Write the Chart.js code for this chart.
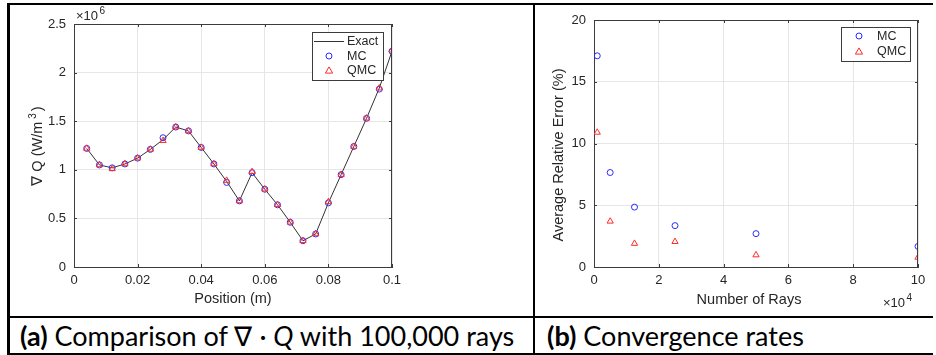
<!DOCTYPE html>
<html>

<head>
  <title>Divergence of Q and convergence rates</title>
  <script src="https://cdn.jsdelivr.net/npm/chart.js@4.4.0/dist/chart.umd.min.js"></script>

  <style>
    body {
      margin: 0;
      background-color: white;
      width: 936px;
      height: 355px;
      position: relative;
      overflow: hidden;
    }

    canvas {
      position: absolute;
      top: 0;
    }

    .rule {
      position: absolute;
      background: #000;
    }

    .caption {
      position: absolute;
      top: 318px;
      height: 35px;
      line-height: 35px;
      font-family: Lato, "Open Sans", sans-serif;
      font-size: 27px;
      color: #000;
      white-space: nowrap;
    }
  </style>
</head>

<body>
  <canvas id="divChart" width="533" height="316" style="left:0"></canvas>
  <canvas id="convChart" width="401" height="316" style="left:535px"></canvas>

  <!-- table rules -->
  <div class="rule" style="left:7px; top:3px; width:926px; height:2px"></div>
  <div class="rule" style="left:7px; top:3px; width:3px; height:352px"></div>
  <div class="rule" style="left:533px; top:3px; width:2px; height:352px"></div>
  <div class="rule" style="left:7px; top:316px; width:926px; height:2px"></div>
  <div class="rule" style="left:7px; top:353px; width:926px; height:2px"></div>

  <div class="caption" style="left:20px"><b>(a)</b> Comparison of ∇ · <i>Q</i> with 100,000 rays</div>
  <div class="caption" style="left:547px"><b>(b)</b> Convergence rates</div>

  <script>
    // (a) div Q along the slab, values in units of 1e6 W/m^3
    const positions = [0.004, 0.008, 0.012, 0.016, 0.020, 0.024, 0.028, 0.032, 0.036, 0.040, 0.044, 0.048, 0.052,
      0.056, 0.060, 0.064, 0.068, 0.072, 0.076, 0.080, 0.084, 0.088, 0.092, 0.096, 0.100];
    const exactQ = [1.22, 1.05, 1.02, 1.06, 1.12, 1.21, 1.31, 1.44, 1.40, 1.23, 1.06, 0.88, 0.68,
      0.97, 0.80, 0.64, 0.46, 0.27, 0.34, 0.66, 0.95, 1.24, 1.53, 1.84, 2.22];
    const mcQ = [1.22, 1.05, 1.02, 1.06, 1.12, 1.21, 1.33, 1.44, 1.40, 1.23, 1.06, 0.87, 0.68,
      0.97, 0.80, 0.64, 0.46, 0.27, 0.34, 0.66, 0.95, 1.24, 1.53, 1.83, 2.22];
    const qmcQ = [1.22, 1.05, 1.01, 1.06, 1.12, 1.21, 1.30, 1.44, 1.40, 1.23, 1.06, 0.89, 0.68,
      0.98, 0.80, 0.64, 0.46, 0.27, 0.34, 0.67, 0.95, 1.24, 1.53, 1.84, 2.23];
    const posTicks = [0, 0.02, 0.04, 0.06, 0.08, 0.1];
    const qTicks = [0, 0.5, 1, 1.5, 2, 2.5];

    // (b) error vs number of rays
    const rays = [1000, 5000, 12500, 25000, 50000, 100000];
    const mcError = [17.1, 7.65, 4.85, 3.35, 2.7, 1.67];
    const qmcError = [10.9, 3.7, 1.9, 2.05, 0.97, 0.78];
    const rayTicks = [0, 20000, 40000, 60000, 80000, 100000];
    const errTicks = [0, 5, 10, 15, 20];

    const axisColor = '#3c3c3c';
    const gridColor = '#e6e6e6';
    const textColor = '#262626';
    const blue = '#2b2bff';
    const red = '#ff2a2a';
    const fontName = '"Liberation Sans", Arial, sans-serif';

    function drawMarker(ctx, kind, x, y) {
      ctx.beginPath();
      if (kind === 'circle') {
        ctx.strokeStyle = blue;
        ctx.arc(x, y, 3, 0, Math.PI * 2);
      } else if (kind === 'triangle') {
        ctx.strokeStyle = red;
        ctx.moveTo(x, y - 3.6);
        ctx.lineTo(x + 3.6, y + 2.6);
        ctx.lineTo(x - 3.6, y + 2.6);
        ctx.closePath();
      } else {
        ctx.strokeStyle = '#333';
        ctx.moveTo(x - 15, y);
        ctx.lineTo(x + 15, y);
      }
      ctx.stroke();
    }

    // draws text pieces; pieces with sup are raised and smaller
    function drawPieces(ctx, pieces, x, y, align) {
      let total = 0;
      pieces.forEach(p => {
        ctx.font = (p.sup ? 10 : p.size) + 'px ' + fontName;
        total += ctx.measureText(p.t).width + (p.gap || 0);
      });
      let cx = align === 'center' ? x - total / 2 : x;
      ctx.textAlign = 'left';
      ctx.textBaseline = 'alphabetic';
      pieces.forEach(p => {
        ctx.font = (p.sup ? 10 : p.size) + 'px ' + fontName;
        cx += (p.gap || 0);
        ctx.fillText(p.t, cx, p.sup ? y - 6 : y);
        cx += ctx.measureText(p.t).width;
      });
    }

    // MATLAB style box, inward ticks, titles and legend
    const matlabAxes = {
      id: 'matlabAxes',
      afterDraw(chart, args, o) {
        const ctx = chart.ctx;
        const a = chart.chartArea;
        const xs = chart.scales.x, ys = chart.scales.y;
        ctx.save();
        ctx.strokeStyle = axisColor;
        ctx.lineWidth = 1;
        ctx.beginPath();
        ctx.moveTo(a.left, Math.round(a.top) + 0.5);
        ctx.lineTo(a.right, Math.round(a.top) + 0.5);
        ctx.moveTo(Math.round(a.right) - 0.5, a.top);
        ctx.lineTo(Math.round(a.right) - 0.5, a.bottom);
        xs.ticks.forEach(t => {
          const px = Math.round(xs.getPixelForValue(t.value)) + 0.5;
          ctx.moveTo(px, a.bottom);
          ctx.lineTo(px, a.bottom - 3);
          ctx.moveTo(px, a.top);
          ctx.lineTo(px, a.top + 3);
        });
        ys.ticks.forEach(t => {
          const py = Math.round(ys.getPixelForValue(t.value)) + 0.5;
          ctx.moveTo(a.left, py);
          ctx.lineTo(a.left + 3, py);
          ctx.moveTo(a.right, py);
          ctx.lineTo(a.right - 3, py);
        });
        ctx.stroke();

        ctx.fillStyle = textColor;
        // x title
        drawPieces(ctx, [{ t: o.xTitle, size: 14.5 }], o.xTitleX, o.xTitleY, 'center');
        // y title, rotated
        ctx.save();
        ctx.translate(o.yTitleX, o.yTitleY);
        ctx.rotate(-Math.PI / 2);
        drawPieces(ctx, o.yTitle, 0, 0, 'center');
        ctx.restore();
        // exponent label
        drawPieces(ctx, [{ t: '×10', size: 13 }, { t: o.expo, sup: true, gap: 1.5 }], o.expoX, o.expoY, 'left');

        // legend
        const lg = o.legend;
        ctx.fillStyle = '#fff';
        ctx.fillRect(lg.x, lg.y, lg.w, lg.h);
        ctx.strokeStyle = axisColor;
        ctx.strokeRect(lg.x + 0.5, lg.y + 0.5, lg.w, lg.h);
        ctx.lineWidth = 1;
        lg.items.forEach((it, i) => {
          const iy = lg.y + lg.first + i * lg.step;
          drawMarker(ctx, it.kind, lg.x + lg.markX, iy);
          ctx.fillStyle = textColor;
          ctx.font = '12.5px ' + fontName;
          ctx.textAlign = 'left';
          ctx.textBaseline = 'middle';
          ctx.fillText(it.label, lg.x + lg.textX, iy + 0.5);
        });
        ctx.restore();
      }
    };

    function scaleOpts(min, max, tickList, fmt, pad, fitSize, isY) {
      return {
        type: 'linear',
        min: min,
        max: max,
        afterBuildTicks: s => { s.ticks = tickList.map(v => ({ value: v })); },
        afterFit: s => {
          if (isY) { s.width = fitSize; } else { s.height = fitSize; }
        },
        grid: { color: gridColor, drawTicks: false },
        border: { color: axisColor, width: 1 },
        ticks: {
          color: textColor,
          padding: pad,
          maxRotation: 0,
          autoSkip: false,
          font: { family: fontName, size: 13 },
          callback: fmt
        }
      };
    }

    new Chart(document.getElementById('divChart').getContext('2d'), {
      type: 'scatter',
      data: {
        datasets: [
          {
            label: 'Exact',
            data: positions.map((p, i) => ({ x: p, y: exactQ[i] })),
            showLine: true,
            borderColor: '#333',
            borderWidth: 1,
            pointRadius: 0,
            order: 3
          },
          {
            label: 'MC',
            data: positions.map((p, i) => ({ x: p, y: mcQ[i] })),
            pointStyle: 'circle',
            pointRadius: 3,
            borderColor: blue,
            backgroundColor: 'rgba(0,0,0,0)',
            borderWidth: 1,
            order: 2
          },
          {
            label: 'QMC',
            data: positions.map((p, i) => ({ x: p, y: qmcQ[i] })),
            pointStyle: 'triangle',
            pointRadius: 3.6,
            borderColor: red,
            backgroundColor: 'rgba(0,0,0,0)',
            borderWidth: 1,
            order: 1
          }
        ]
      },
      options: {
        responsive: false,
        animation: false,
        layout: { padding: { top: 24, right: 141, left: 0, bottom: 0 } },
        plugins: {
          legend: { display: false },
          tooltip: { enabled: false },
          matlabAxes: {
            xTitle: 'Position (m)', xTitleX: 233, xTitleY: 303,
            yTitle: [{ t: '∇ Q (W/m', size: 14.5 }, { t: '3', sup: true, gap: 3 }, { t: ')', size: 14.5, gap: 2 }],
            yTitleX: 42, yTitleY: 146,
            expo: '6', expoX: 76, expoY: 20,
            legend: {
              x: 312, y: 32, w: 71, h: 48, first: 9.5, step: 14.5, markX: 17, textX: 35,
              items: [{ kind: 'line', label: 'Exact' }, { kind: 'circle', label: 'MC' }, { kind: 'triangle', label: 'QMC' }]
            }
          }
        },
        scales: {
          x: scaleOpts(0, 0.1, posTicks, v => String(Math.round(v * 100) / 100), 6, 49, false),
          y: scaleOpts(0, 2.5, qTicks, v => String(v), 8, 74, true)
        }
      },
      plugins: [matlabAxes]
    });

    new Chart(document.getElementById('convChart').getContext('2d'), {
      type: 'scatter',
      data: {
        datasets: [
          {
            label: 'MC',
            data: rays.map((r, i) => ({ x: r, y: mcError[i] })),
            pointStyle: 'circle',
            pointRadius: 3,
            borderColor: blue,
            backgroundColor: 'rgba(0,0,0,0)',
            borderWidth: 1,
            order: 2
          },
          {
            label: 'QMC',
            data: rays.map((r, i) => ({ x: r, y: qmcError[i] })),
            pointStyle: 'triangle',
            pointRadius: 3.6,
            borderColor: red,
            backgroundColor: 'rgba(0,0,0,0)',
            borderWidth: 1,
            order: 1
          }
        ]
      },
      options: {
        responsive: false,
        animation: false,
        layout: { padding: { top: 20, right: 18, left: 0, bottom: 0 } },
        plugins: {
          legend: { display: false },
          tooltip: { enabled: false },
          matlabAxes: {
            xTitle: 'Number of Rays', xTitleX: 749 - 535, xTitleY: 304,
            yTitle: [{ t: 'Average Relative Error (%)', size: 14.5 }],
            yTitleX: 563 - 535, yTitleY: 155,
            expo: '4', expoX: 883 - 535, expoY: 307,
            legend: {
              x: 841 - 535, y: 27, w: 69, h: 34, first: 9, step: 15.5, markX: 18, textX: 36,
              items: [{ kind: 'circle', label: 'MC' }, { kind: 'triangle', label: 'QMC' }]
            }
          }
        },
        scales: {
          x: scaleOpts(0, 100000, rayTicks, v => String(v / 10000), 6, 49, false),
          y: scaleOpts(0, 20, errTicks, v => String(v), 8, 59, true)
        }
      },
      plugins: [matlabAxes]
    });
  </script>
</body>

</html>
